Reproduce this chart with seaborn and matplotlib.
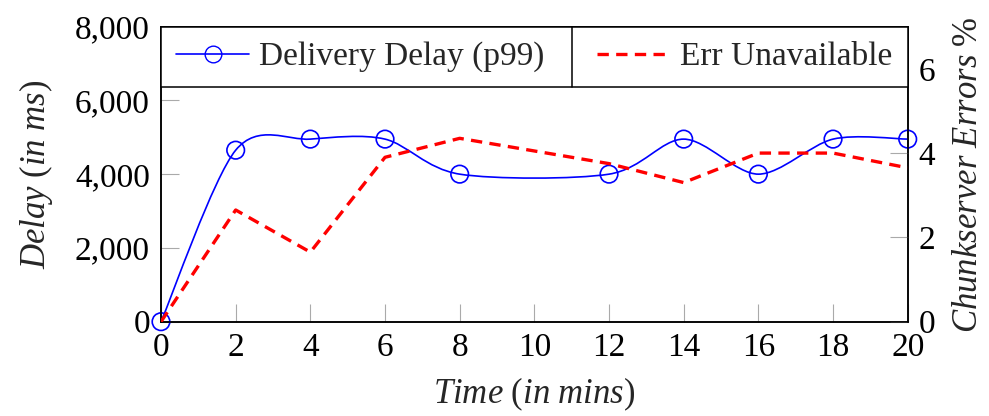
import numpy as np
import seaborn as sns
import matplotlib
matplotlib.use("Agg")
import matplotlib.pyplot as plt
from matplotlib.path import Path
from matplotlib.patches import PathPatch
from matplotlib.lines import Line2D

# data
time_min = [0, 2, 4, 6, 8, 12, 14, 16, 18, 20]
delay_p99 = [0, 4650, 4950, 4950, 4000, 4000, 4950, 4000, 4950, 4950]
err_unavailable = [0, 2.65, 1.65, 3.9, 4.35, 3.75, 3.3, 4.0, 4.0, 3.65]
left_ticks = [0, 2000, 4000, 6000, 8000]
left_ticklabels = ["0", "2,000", "4,000", "6,000", "8,000"]
right_ticks = [0, 2, 4, 6]
x_ticks = list(range(0, 21, 2))

sns.set_style("ticks")
plt.rcParams["font.family"] = ["Liberation Serif", "DejaVu Serif"]
plt.rcParams["mathtext.fontset"] = "custom"
plt.rcParams["mathtext.rm"] = "Liberation Serif"
plt.rcParams["mathtext.it"] = "Liberation Serif:italic"


def smooth_path(xs, ys, k=0.15):
    # cubic bezier through the points (cardinal spline style, like pgfplots "smooth")
    p = np.column_stack([xs, ys]).astype(float)
    n = len(p)
    verts = [p[0]]
    codes = [Path.MOVETO]
    for i in range(n - 1):
        prev = p[i - 1] if i > 0 else p[i]
        nxt = p[i + 2] if i + 2 < n else p[i + 1]
        c1 = p[i] + (p[i + 1] - prev) * k
        c2 = p[i + 1] - (nxt - p[i]) * k
        verts += [c1, c2, p[i + 1]]
        codes += [Path.CURVE4] * 3
    return Path(verts, codes)


fig = plt.figure(figsize=(9.89, 4.16), dpi=100)
ax = fig.add_axes([0.1628, 0.2267, 0.755, 0.7093])
ax2 = ax.twinx()

blue = "#0000ff"
red = "#ff0000"
dash = (0, (3.4, 2.2))

ax.add_patch(PathPatch(smooth_path(time_min, delay_p99), fill=False,
                       edgecolor=blue, lw=1.2, zorder=3))
sns.scatterplot(x=time_min, y=delay_p99, ax=ax, marker="o", s=160,
                facecolor="none", edgecolor=blue, linewidth=1.2,
                zorder=4, clip_on=False)

sns.lineplot(x=time_min, y=err_unavailable, ax=ax2, color=red, lw=2.4,
             linestyle=dash, zorder=3)

ax.set_xlim(0, 20)
ax.set_ylim(0, 8000)
ax2.set_ylim(0, 7)
ax.set_xticks(x_ticks)
ax.set_yticks(left_ticks)
ax.set_yticklabels(left_ticklabels)
ax2.set_yticks(right_ticks)

tick_kw = dict(direction="in", length=13, width=0.8, color="#aaaaaa",
               labelcolor="black", labelsize=24, pad=8)
ax.tick_params(axis="both", **tick_kw)
ax2.tick_params(axis="y", **tick_kw)

for a in (ax, ax2):
    for s in a.spines.values():
        s.set_color("black")
        s.set_linewidth(1.1)

ax.set_xlabel(r"$Time\ (in\ mins)$", fontsize=25, labelpad=9)
ax.set_ylabel(r"$Delay\ (in\ ms)$", fontsize=25, labelpad=14)
ax2.set_ylabel(r"$Chunkserver\ Errors\ \%$", fontsize=25, labelpad=12)

handles = [
    Line2D([], [], color=blue, lw=1.2, marker="o", markersize=12,
           markerfacecolor="none", markeredgecolor=blue),
    Line2D([], [], color=red, lw=2.4, linestyle=dash),
]
leg = ax2.legend(handles, ["Delivery Delay (p99)", "Err Unavailable"],
                 ncol=2, mode="expand", loc="upper left",
                 bbox_to_anchor=(0, 0, 1, 1),
                 borderaxespad=0, fancybox=False, framealpha=1,
                 edgecolor="black", fontsize=24, handlelength=2.2,
                 handletextpad=0.3, borderpad=0.45)
leg.get_frame().set_linewidth(1.1)

# vertical divider between the two legend entries
fig.canvas.draw()
bb = leg.get_window_extent().transformed(ax2.transAxes.inverted())
ax2.plot([0.5504, 0.5504], [bb.y0, bb.y1], transform=ax2.transAxes,
         color="black", lw=1.1, zorder=10, clip_on=False)

fig.savefig("out.png", dpi=100)
